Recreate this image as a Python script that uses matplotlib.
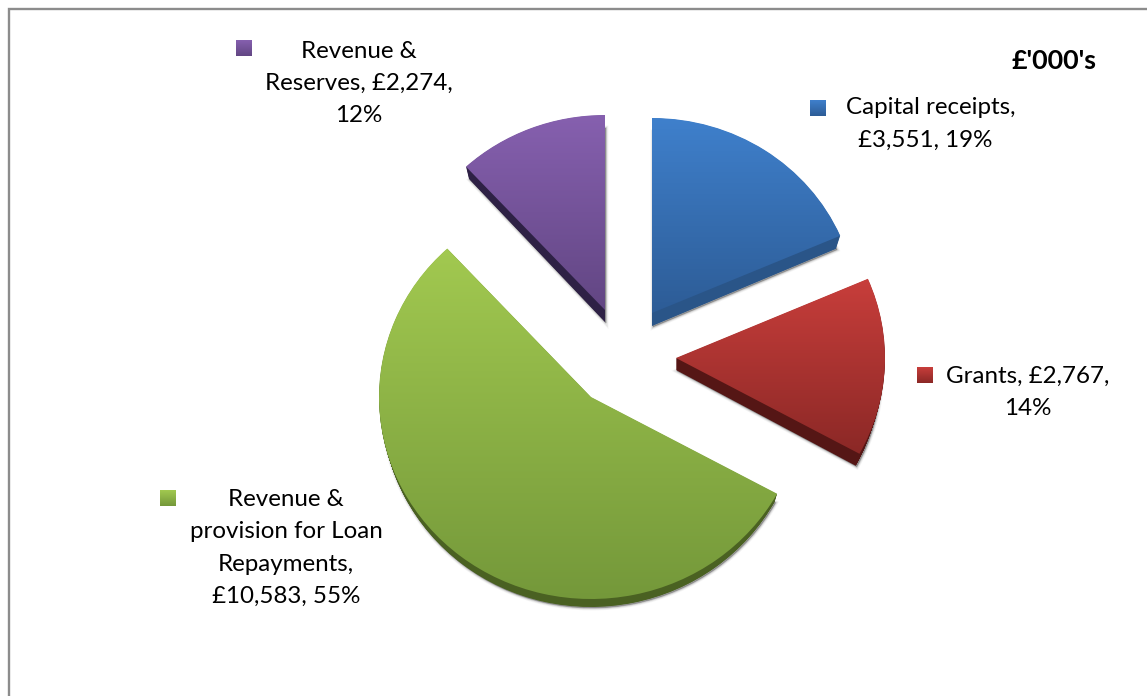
import numpy as np
import matplotlib
matplotlib.use("Agg")
import matplotlib.pyplot as plt
from matplotlib.patches import Wedge, Rectangle
from matplotlib.transforms import Affine2D
from matplotlib.colors import LinearSegmentedColormap

# ---- data ----
categories = ["Capital receipts", "Grants", "Revenue & provision for Loan Repayments", "Revenue & Reserves"]
values = [3551, 2767, 10583, 2274]
percents = [19, 14, 55, 12]
unit_label = "£'000's"
label_lines = [
    ["Capital receipts,", "£3,551, 19%"],
    ["Grants, £2,767,", "14%"],
    ["Revenue &", "provision for Loan", "Repayments,", "£10,583, 55%"],
    ["Revenue &", "Reserves, £2,274,", "12%"],
]

# ---- layout & style (pixel coordinates, y measured from top) ----
W, H = 1147, 696
apex = [(652, 313), (676, 358), (591, 397), (605, 310)]
radii = [(205, 195), (209, 200), (212, 202), (205, 195)]
depth = [13, 12, 8, 12]
top_col = ["#3F80CC", "#C83E3B", "#A2C950", "#8660AF"]
bot_col = ["#2D5C96", "#8B2826", "#74983A", "#624683"]
side_col = ["#2A5588", "#551615", "#4A6122", "#2E2145"]
label_pos = [(931, 108), (1028, 376), (286, 499.5), (359, 51)]
line_x_shift = [[0, -6], [0, 0], [0, 0, 0, 0], [0, 0, 0]]
line_pitch = 32.4
key_pos = [(810, 100), (917, 367), (160, 490), (236, 40)]
key_size = 16
font = "Lato"
font_pt = 17.4
unit_pt = 19.4
side_shrink = 0.35

fig = plt.figure(figsize=(W / 100, H / 100), dpi=100, facecolor="white")
ax = fig.add_axes([0, 0, 1, 1])
wedges, _ = ax.pie(values, startangle=90, counterclock=False, radius=1, center=(0, 0), frame=True)
ax.set_aspect("auto")
ax.set_xlim(0, W)
ax.set_ylim(0, H)
ax.axis("off")

yy = lambda py: H - py
grad = np.linspace(0, 1, 256).reshape(-1, 1)

ax.add_patch(Rectangle((9, yy(9) - 900), 1400, 900, fill=False, ec="#8C8C8C", lw=1.7, zorder=1))

for w, (cx, cy), (rx, ry), d, tc, bc, sc in zip(wedges, apex, radii, depth, top_col, bot_col, side_col):
    def base(dy, dx=0, shrink=0):
        return Affine2D().scale(rx - shrink, ry).translate(cx + dx, yy(cy) - dy) + ax.transData
    # soft shadow
    for lw, a in ((5, 0.04), (3.5, 0.06), (2, 0.09), (1, 0.12)):
        ax.add_patch(Wedge((0, 0), 1, w.theta1, w.theta2, transform=base(d + 1, 1, side_shrink * d),
                           fc="#000000", ec="#000000", lw=lw * 0.72, alpha=a, zorder=2))
    # extruded side
    for t in np.arange(0.5, d + 0.5, 0.5):
        ax.add_patch(Wedge((0, 0), 1, w.theta1, w.theta2, transform=base(t, 0, side_shrink * t),
                           fc=sc, ec="none", zorder=3))
    # gradient top face
    w.set_transform(base(0))
    w.set_facecolor("none")
    w.set_edgecolor("none")
    w.set_zorder(5)
    cmap = LinearSegmentedColormap.from_list("g", [tc, bc])
    verts = w.get_path().vertices
    y0 = yy(cy) + ry * verts[:, 1].max()
    y1 = yy(cy) + ry * verts[:, 1].min()
    im = ax.imshow(grad, cmap=cmap, aspect="auto", extent=(cx - rx - 5, cx + rx + 5, y1, y0), zorder=4,
                   interpolation="bilinear")
    im.set_clip_path(w.get_path(), base(0))

# legend keys + labels
for (kx, ky), tc, bc, lines, shifts, (lx, ly) in zip(key_pos, top_col, bot_col, label_lines, line_x_shift, label_pos):
    cmap = LinearSegmentedColormap.from_list("g", [tc, bc])
    ax.imshow(grad, cmap=cmap, aspect="auto", extent=(kx, kx + key_size, yy(ky + key_size), yy(ky)), zorder=6)
    for i, (line, sx) in enumerate(zip(lines, shifts)):
        ax.text(lx + sx, yy(ly + i * line_pitch), line, ha="center", va="center", fontsize=font_pt,
                family=font, color="black", zorder=7)

ax.text(1054, yy(61), unit_label, ha="center", va="center", fontsize=unit_pt, family=font,
        fontweight="bold", color="black", zorder=7)

ax.set_aspect("auto")
ax.set_xlim(0, W)
ax.set_ylim(0, H)
fig.savefig("out.png", dpi=100, facecolor="white")
